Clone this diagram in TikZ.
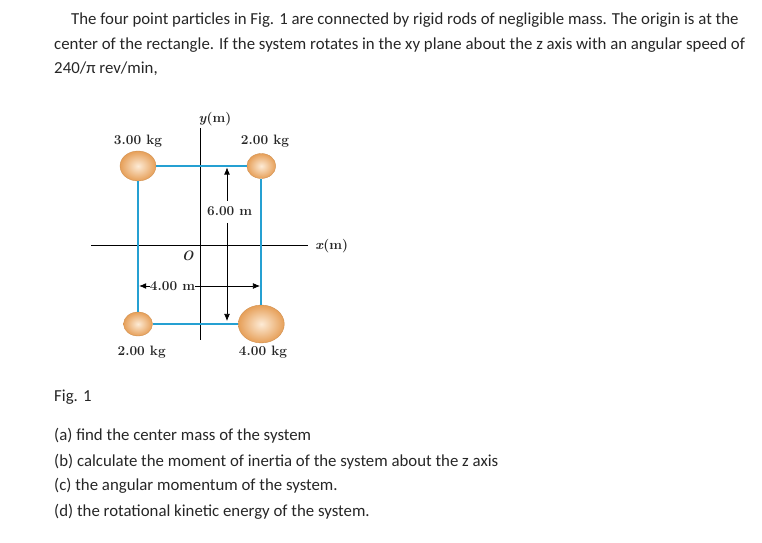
\documentclass[tikz,border=0pt]{standalone}
\usepackage{fontspec}
\setsansfont{Carlito}
\usetikzlibrary{shapes.geometric, arrows.meta}
\definecolor{rodblue}{HTML}{25A0D2}
\definecolor{ballout}{HTML}{E69F58}
\definecolor{ballin}{HTML}{FDEBD6}
\definecolor{inktext}{HTML}{262626}
\tikzset{
  ball/.style={ellipse, inner sep=0pt, draw=ballout!90!black, line width=0.3pt, inner color=ballin, outer color=ballout},
  rod/.style={draw=rodblue, line width=2pt},
  axis/.style={black, line width=0.7pt},
  dimline/.style={-{Latex[length=6pt, width=5pt]}, line width=0.6pt},
  figlabel/.style={font=\bfseries\fontsize{11.6}{12}\selectfont, inner sep=0pt, text=black!85},
  bodytext/.style={font=\fontsize{14.35}{16}\sffamily, anchor=base west, inner sep=0pt, text=inktext}
}
\begin{document}
\begin{tikzpicture}[x=0.03cm, y=-0.03cm]
  \useasboundingbox (0,0) rectangle (762,543);

  % Problem text
  \node[bodytext] (line1) at (71,25) {The four point particles in Fig. 1 are connected by rigid rods of negligible mass. The origin is at the};
  \node[bodytext] (line2) at (54,49.5) {center of the rectangle. If the system rotates in the xy plane about the z axis with an angular speed of};
  \node[bodytext] (line3) at (54,74) {240/π rev/min,};

  % Axes
  \coordinate (xleft) at (91,245.3);
  \coordinate (xright) at (308,245.3);
  \coordinate (ytop) at (200,128);
  \coordinate (ybot) at (200,340);
  \draw[axis] (xleft) -- (xright);
  \draw[axis] (ytop) -- (ybot);

  % Particles
  \node[ball, minimum width=36pt*0.8536, minimum height=30pt*0.8536] (mA) at (138,166) {};
  \node[ball, minimum width=29pt*0.8536, minimum height=25pt*0.8536] (mB) at (261.3,166) {};
  \node[ball, minimum width=29pt*0.8536, minimum height=24pt*0.8536] (mC) at (138,324) {};
  \node[ball, minimum width=46pt*0.8536, minimum height=38pt*0.8536] (mD) at (261.3,324) {};

  % Rods
  \draw[rod] (mA) -- (mB);
  \draw[rod] (mB) -- (mD);
  \draw[rod] (mC) -- (mD);
  \draw[rod] (mA) -- (mC);

  % Dimension 6.00 m
  \node[figlabel] (lblsix) at (229.7,211) {6.00 m};
  \coordinate (sixtop) at (227,167.5);
  \coordinate (sixup) at (227,201);
  \coordinate (sixdown) at (227,223);
  \coordinate (sixbot) at (227,321);
  \draw[dimline] (sixup) -- (sixtop);
  \draw[dimline] (sixdown) -- (sixbot);

  % Dimension 4.00 m
  \node[figlabel] (lblfour) at (172.5,286) {4.00 m};
  \coordinate (fourleft) at (139.2,286);
  \coordinate (fourright) at (260,286);
  \draw[dimline] (lblfour) -- (fourleft);
  \draw[dimline] (lblfour) -- (fourright);

  % Labels
  \node[figlabel] (lblA) at (138,141) {3.00 kg};
  \node[figlabel] (lblB) at (265,141) {2.00 kg};
  \node[figlabel] (lblC) at (141.7,352.5) {2.00 kg};
  \node[figlabel] (lblD) at (263,352.5) {4.00 kg};
  \node[figlabel] (lbly) at (215,119.5) {\textit{y}(m)};
  \node[figlabel] (lblx) at (331.7,246) {\textit{x}(m)};
  \node[figlabel] (lblO) at (187.7,256) {\textit{O}};

  % Questions
  \node[bodytext] (fig) at (54,401) {Fig. 1};
  \node[bodytext] (qa) at (54,440) {(a) find the center mass of the system};
  \node[bodytext] (qb) at (54,466) {(b) calculate the moment of inertia of the system about the z axis};
  \node[bodytext] (qc) at (54,490) {(c) the angular momentum of the system.};
  \node[bodytext] (qd) at (54,516) {(d) the rotational kinetic energy of the system.};
\end{tikzpicture}
\end{document}
